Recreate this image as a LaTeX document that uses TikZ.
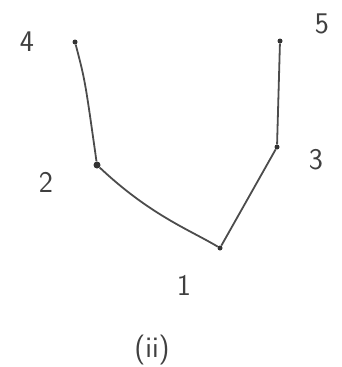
\documentclass[tikz,border=0pt]{standalone}
\begin{document}
\begin{tikzpicture}[x=1pt,y=-1pt,
  vtx/.style={circle,fill=black!80,inner sep=0pt,minimum size=5pt},
  lbl/.style={font=\fontsize{30}{32}\selectfont\sffamily,text=black!75},
  edge/.style={draw=black!70,line width=1.8pt}]
\useasboundingbox (0,0) rectangle (342,367);
\node[vtx] (v4) at (75,42) {};
\node[vtx] (v5) at (280,41) {};
\node[vtx,minimum size=7pt] (v2) at (97,165) {};
\node[vtx] (v3) at (277,147) {};
\node[vtx] (v1) at (220,248) {};
\node[lbl] (l4) at (27,42) {4};
\node[lbl] (l5) at (322,24) {5};
\node[lbl] (l2) at (46,182) {2};
\node[lbl] (l3) at (316,160) {3};
\node[lbl] (l1) at (184,285) {1};
\node[lbl] (cap) at (152,350) {(ii)};
\draw[edge] (v4) .. controls (85,80) .. (v2);
\draw[edge] (v2) .. controls (150,215) and (190,230) .. (v1);
\draw[edge] (v1) -- (v3);
\draw[edge] (v3) -- (v5);
\end{tikzpicture}
\end{document}
